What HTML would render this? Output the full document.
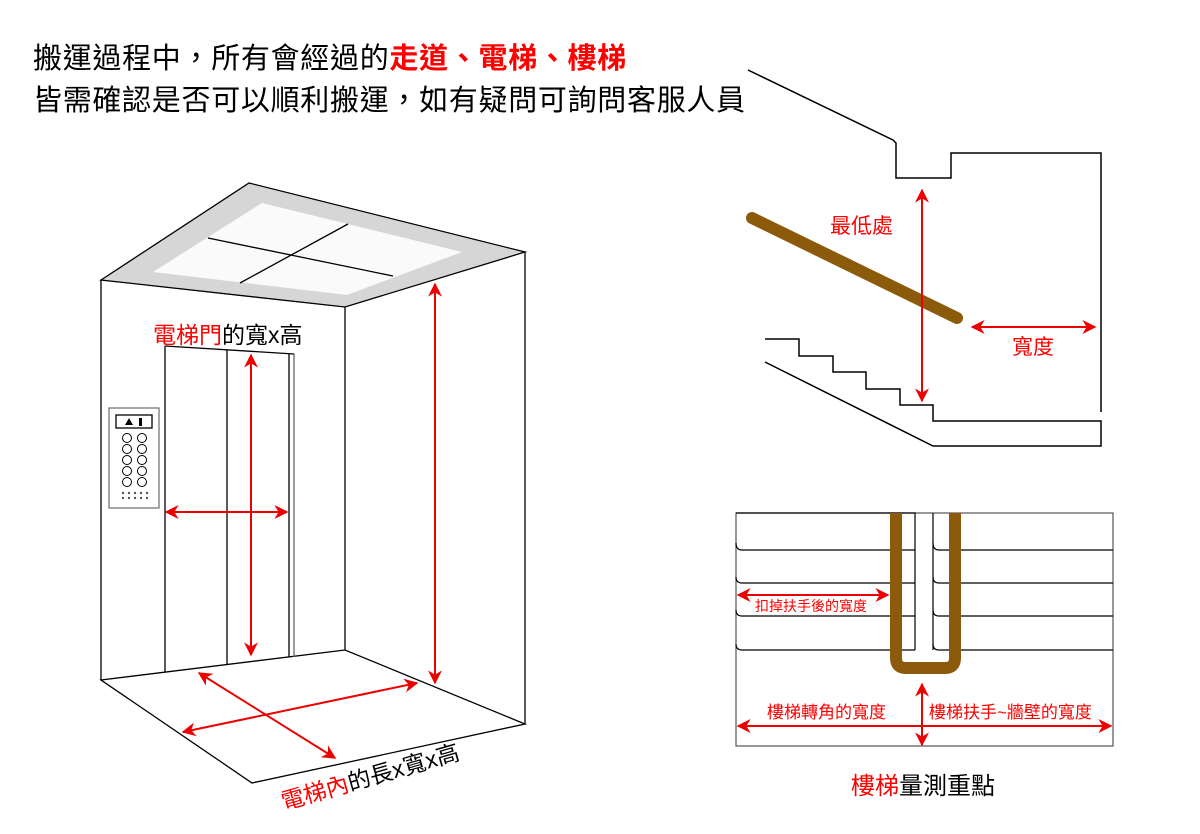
<!DOCTYPE html>
<html><head><meta charset="utf-8"><style>
body{margin:0;background:#fff;}
svg{display:block;font-family:"Liberation Sans","Noto Sans CJK TC",sans-serif;}
</style></head><body>
<svg width="1200" height="834" viewBox="0 0 1200 834">
<defs>
<marker id="a" viewBox="0 0 10 10" refX="9" refY="5" markerWidth="7" markerHeight="7" orient="auto-start-reverse"><path d="M0,0L10,5L0,10L3,5Z" fill="#e00"/></marker>
</defs>
<text x="33" y="68" font-size="29" letter-spacing="0.7" fill="#000">搬運過程中，所有會經過的<tspan fill="#f00" font-weight="bold">走道、電梯、樓梯</tspan></text>
<text x="33" y="110" font-size="29" letter-spacing="0.7" fill="#000">皆需確認是否可以順利搬運，如有疑問可詢問客服人員</text>

<!-- elevator -->
<g stroke="#000" stroke-width="1.3" fill="none">
<polygon points="249,183 525,252 345,307 101,280" fill="#d6d6d6"/>
<polygon points="262,203 462,252 347,295 153,272" fill="#fafafa" stroke="none"/>
<line x1="208" y1="238" x2="393" y2="276"/>
<line x1="240" y1="283" x2="348" y2="224"/>
<line x1="101" y1="280" x2="101" y2="680"/>
<line x1="345" y1="307" x2="345" y2="650"/>
<line x1="525" y1="252" x2="525" y2="724"/>
<polygon points="101,680 345,650 525,724 252,783"/>
<line x1="165" y1="346" x2="165" y2="672"/>
<line x1="227" y1="350" x2="227" y2="664"/>
<line x1="289" y1="354" x2="289" y2="657"/>
<line x1="294" y1="354" x2="294" y2="657" stroke="#666"/>
<line x1="165" y1="346" x2="294" y2="354"/>
<rect x="109" y="408" width="50" height="100" stroke="#777"/>
<rect x="116" y="415" width="36" height="13"/>
</g>
<path d="M125,425l4,-7l4,7z" fill="#000"/><rect x="139" y="418" width="3" height="8" fill="#000"/>
<g stroke="#000" fill="none" stroke-width="1">
<circle cx="127" cy="438" r="4.5"/><circle cx="142" cy="438" r="4.5"/>
<circle cx="127" cy="449" r="4.5"/><circle cx="142" cy="449" r="4.5"/>
<circle cx="127" cy="460" r="4.5"/><circle cx="142" cy="460" r="4.5"/>
<circle cx="127" cy="471" r="4.5"/><circle cx="142" cy="471" r="4.5"/>
<circle cx="127" cy="482" r="4.5"/><circle cx="142" cy="482" r="4.5"/>
</g>
<g fill="#555"><circle cx="123" cy="493" r="1.2"/><circle cx="129" cy="493" r="1.2"/><circle cx="135" cy="493" r="1.2"/><circle cx="141" cy="493" r="1.2"/><circle cx="147" cy="493" r="1.2"/>
<circle cx="123" cy="498" r="1.2"/><circle cx="129" cy="498" r="1.2"/><circle cx="135" cy="498" r="1.2"/><circle cx="141" cy="498" r="1.2"/><circle cx="147" cy="498" r="1.2"/></g>
<g stroke="#e00" stroke-width="2" marker-start="url(#a)" marker-end="url(#a)">
<line x1="251" y1="355" x2="251" y2="655"/>
<line x1="166" y1="512" x2="287" y2="512"/>
<line x1="435" y1="284" x2="435" y2="683"/>
<line x1="199" y1="673" x2="335" y2="758"/>
<line x1="183" y1="732" x2="417" y2="683"/>
</g>
<text x="153" y="343" font-size="23"><tspan fill="#f00">電梯門</tspan>的寬x高</text>
<text x="0" y="0" font-size="23" transform="translate(284,810) rotate(-16)"><tspan fill="#f00">電梯內</tspan>的長x寬x高</text>

<!-- stairs -->
<g stroke="#000" stroke-width="1.5" fill="none">
<polyline points="748,70 893,140 896,143 896,178 951,178 951,153 1101,153 1101,412"/>
<polyline points="765,339 799,339 799,356 833,356 833,372 866,372 866,389 900,389 900,405 933,405 933,421 1101,421 1101,446 933,446 765,362"/>
</g>
<line x1="752" y1="218" x2="957" y2="318" stroke="#8b5a0b" stroke-width="12" stroke-linecap="round"/>
<g stroke="#e00" stroke-width="2" marker-start="url(#a)" marker-end="url(#a)">
<line x1="922" y1="190" x2="922" y2="401"/>
<line x1="972" y1="327" x2="1095" y2="327"/>
</g>
<text x="830" y="233" font-size="21" fill="#f00">最低處</text>
<text x="1012" y="354" font-size="21" fill="#f00">寬度</text>

<!-- stair plan -->
<g stroke="#000" stroke-width="1.2" fill="none">
<rect x="736" y="513" width="377" height="233" stroke="#555"/>
<path d="M736,513H915V650M742,550H915M742,583H915M742,616H915M742,650H915"/>
<path d="M933,650V513M939,550H1113M939,583H1113M939,616H1113M939,650H1113"/>
<path d="M736,543q0,7 6,7M736,577q0,6 6,6M736,610q0,6 6,6M736,644q0,6 6,6"/>
<path d="M933,543q0,7 6,7M933,577q0,6 6,6M933,610q0,6 6,6M933,644q0,6 6,6"/>
</g>
<path d="M896,513V658q0,10 10,10H945q10,0 10,-10V513" stroke="#8b5a0b" stroke-width="12" fill="none"/>
<g stroke="#e00" stroke-width="2" marker-start="url(#a)" marker-end="url(#a)">
<line x1="738" y1="595" x2="888" y2="595"/>
<line x1="738" y1="726" x2="1111" y2="726"/>
<line x1="922" y1="684" x2="922" y2="745"/>
</g>
<text x="755" y="611" font-size="14" fill="#f00">扣掉扶手後的寬度</text>
<text x="767" y="718" font-size="17" fill="#f00">樓梯轉角的寬度</text>
<text x="929" y="718" font-size="17" fill="#f00">樓梯扶手~牆壁的寬度</text>
<text x="923" y="794" font-size="24" text-anchor="middle"><tspan fill="#f00">樓梯</tspan>量測重點</text>
</svg>
</body></html>
